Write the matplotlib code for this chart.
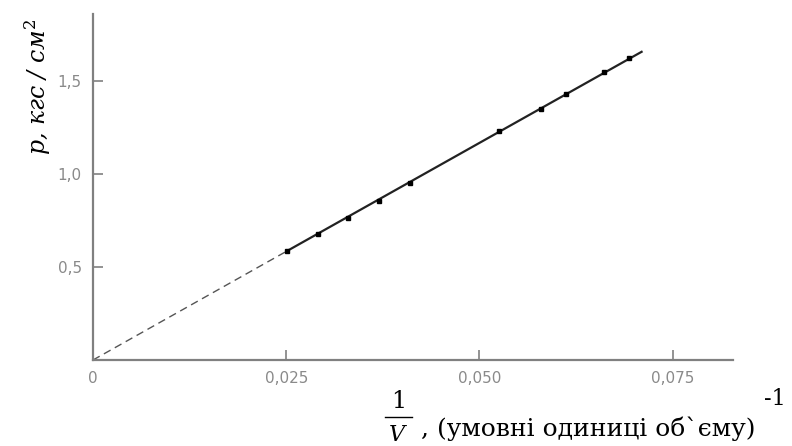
import numpy as np
import matplotlib
matplotlib.use("Agg")
import matplotlib.pyplot as plt

# measured points: 1/V and p (kgf/cm^2)
inv_v = [0.0251, 0.0291, 0.0330, 0.0370, 0.0410, 0.0525, 0.0579, 0.0612, 0.0661, 0.0694]
p = [0.586, 0.677, 0.763, 0.855, 0.952, 1.231, 1.349, 1.430, 1.548, 1.624]
x_line_end = 0.0711
xticks = [0, 0.025, 0.050, 0.075]
xtick_labels = ["0", "0,025", "0,050", "0,075"]
yticks = [0.5, 1.0, 1.5]
ytick_labels = ["0,5", "1,0", "1,5"]

plt.rcParams["mathtext.fontset"] = "dejavuserif"

W, H = 792, 446
fig = plt.figure(figsize=(W / 100, H / 100), dpi=100)
ax = fig.add_axes([93 / W, 86 / H, 640 / W, 346 / H])

x = np.array(inv_v)
y = np.array(p)
k = np.sum(x * y) / np.sum(x * x)  # fit through origin

ax.plot([0, x[0]], [0, k * x[0]], ls=(0, (5.5, 3.5)), color="#555555", lw=1.0)
ax.plot([x[0], x_line_end], [k * x[0], k * x_line_end], color="#222222", lw=1.6,
        solid_capstyle="butt")
ax.plot(x, y, "s", color="black", ms=3.5)

ax.set_xlim(0, 0.0828)
ax.set_ylim(0, 1.86)
for s in ["top", "right"]:
    ax.spines[s].set_visible(False)
for s in ["left", "bottom"]:
    ax.spines[s].set_color("#808080")
    ax.spines[s].set_linewidth(1.6)

ax.set_xticks(xticks)
ax.set_xticklabels(xtick_labels)
ax.set_yticks(yticks)
ax.set_yticklabels(ytick_labels)
ax.tick_params(direction="in", length=7, width=1.2, color="#808080",
               labelcolor="#8a8a8a", labelsize=11, pad=8)
ax.xaxis.get_major_ticks()[0].tick1line.set_visible(False)

# y label
fig.text(38 / W, 1 - 87 / H, r"$p$, кгс / см$^2$", rotation=90, ha="center", va="center",
         fontsize=17, family="DejaVu Serif", style="italic")

# x label: 1/V fraction, text, superscript
fig.text(399 / W, 1 - 402 / H, "1", ha="center", va="center",
         fontsize=17, family="DejaVu Serif")
fig.add_artist(plt.Line2D([385 / W, 412 / W], [1 - 417 / H, 1 - 417 / H],
                          color="black", lw=1.0))
fig.text(397 / W, 1 - 435 / H, "V", ha="center", va="center",
         fontsize=16, family="DejaVu Serif", style="italic")
fig.text(421 / W, 1 - 429 / H, ", (умовні одиниці об`єму)", ha="left", va="center",
         fontsize=18, family="DejaVu Serif")
fig.text(764 / W, 1 - 399 / H, "-1", ha="left", va="center",
         fontsize=16, family="DejaVu Serif")

fig.savefig("out.png", dpi=100, facecolor="white")
